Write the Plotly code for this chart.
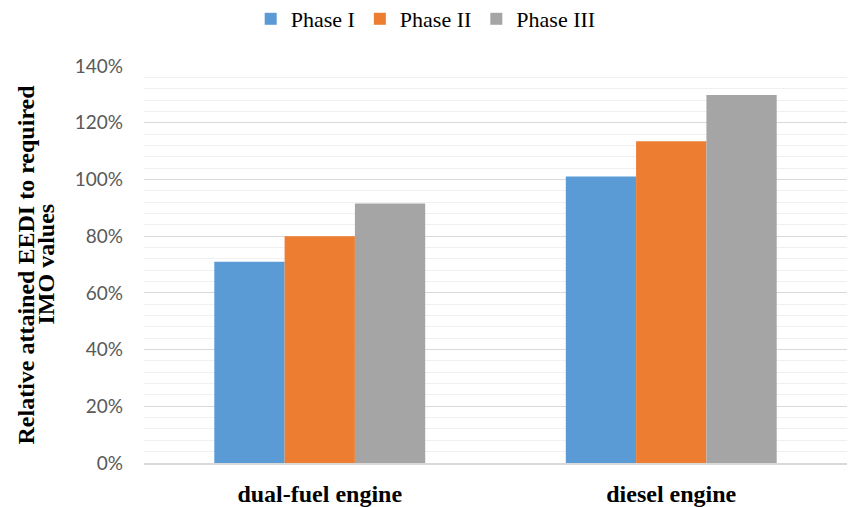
import plotly.graph_objects as go

categories = ["dual-fuel engine", "diesel engine"]
series_names = ["Phase I", "Phase II", "Phase III"]
phase1 = [71, 101]
phase2 = [80, 113.5]
phase3 = [91.5, 129.8]
colors = ["#5B9BD5", "#ED7D31", "#A5A5A5"]
y_ticks = [0, 20, 40, 60, 80, 100, 120, 140]

fig = go.Figure()
for name, vals, col in zip(series_names, [phase1, phase2, phase3], colors):
    fig.add_trace(go.Bar(name=name, x=categories, y=vals, marker=dict(color=col, line=dict(width=0))))

fig.update_layout(
    width=848, height=507,
    margin=dict(l=144, r=1, t=66, b=44),
    paper_bgcolor="white", plot_bgcolor="white",
    barmode="group", bargap=0.4, bargroupgap=0,
    showlegend=True,
    legend=dict(orientation="h", xref="container", yref="container", x=0.502, xanchor="center",
                y=1 - 19 / 507, yanchor="middle", font=dict(family="Liberation Serif", size=22, color="black"),
                itemwidth=30, traceorder="normal"),
    font=dict(family="Liberation Serif"),
)
fig.update_xaxes(showline=True, linecolor="#D9D9D9", linewidth=1.5, ticks="", automargin=False,
                 tickfont=dict(family="Liberation Serif", size=24, color="black", weight="bold"),
                 ticklabelstandoff=8, showgrid=False)
fig.update_yaxes(range=[0, 140], tickvals=y_ticks, ticktext=[f"{v}%" for v in y_ticks], automargin=False,
                 showgrid=True, gridcolor="#D9D9D9", gridwidth=1,
                 minor=dict(dtick=4, showgrid=True, gridcolor="#F0F0F0", gridwidth=1),
                 tickfont=dict(family="Lato", size=19, color="#595959"),
                 ticklabelstandoff=20, zeroline=False, showline=False)
title_lines = ["Relative attained EEDI to required", "IMO values"]
for line, xc in zip(title_lines, [25, 45]):
    fig.add_annotation(text=f"<b>{line}</b>", textangle=-90,
                       xref="paper", yref="paper", x=(xc - 144) / 703, y=0.5, xanchor="center", yanchor="middle",
                       showarrow=False, font=dict(family="Liberation Serif", size=24, color="black"))
fig.write_html("out.html", config={"displayModeBar": False},
               post_script="document.body.style.margin='0';")
